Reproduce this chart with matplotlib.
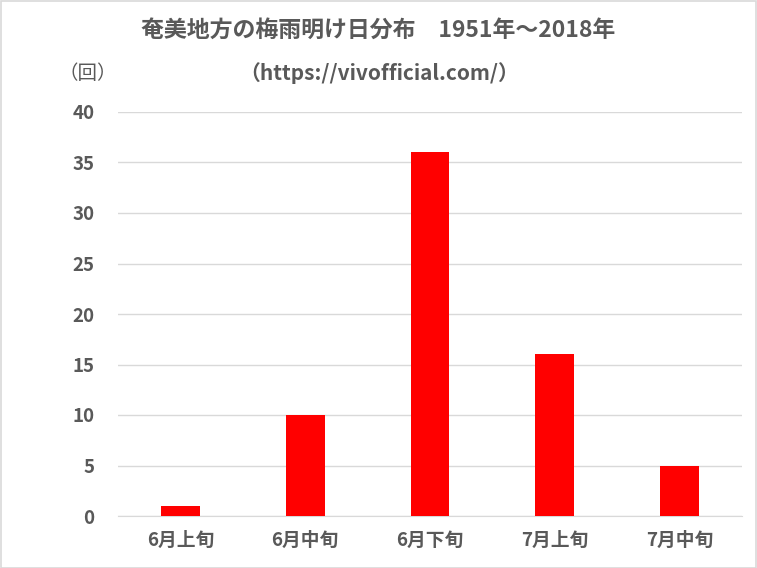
import numpy as np
import matplotlib.pyplot as plt
from matplotlib.patches import Rectangle

plt.rcParams['font.family'] = ['Noto Sans CJK JP', 'DejaVu Sans']

categories = ['6月上旬', '6月中旬', '6月下旬', '7月上旬', '7月中旬']
counts = [1, 10, 36, 16, 5]
yticks = [0, 5, 10, 15, 20, 25, 30, 35, 40]

TEXT = '#595959'
W, H = 757, 568

fig = plt.figure(figsize=(W / 100, H / 100), dpi=100)
ax = fig.add_axes([118 / W, 1 - 516 / H, 624 / W, 404 / H])

x = np.arange(len(categories))
ax.bar(x, counts, width=0.31, color='#ff0000', zorder=3)

ax.set_xlim(-0.5, len(categories) - 0.5)
ax.set_ylim(0, 40)
ax.set_yticks(yticks)
ax.set_xticks(x)
ax.set_xticklabels(categories)
ax.grid(axis='y', color='#d9d9d9', linewidth=1, zorder=0)
for s in ['top', 'right', 'left']:
    ax.spines[s].set_visible(False)
ax.spines['bottom'].set_color('#d9d9d9')
ax.tick_params(axis='both', length=0, colors=TEXT)
ax.tick_params(axis='x', pad=11, labelsize=13.5)
ax.tick_params(axis='y', pad=17, labelsize=13.5)
for lab in ax.get_xticklabels() + ax.get_yticklabels():
    lab.set_fontweight('bold')

fig.text(378 / W, 1 - 30 / H, '奄美地方の梅雨明け日分布　1951年～2018年',
         ha='center', va='center', fontsize=16.5, fontweight='bold', color=TEXT)
fig.text(379 / W, 1 - 73 / H, '（https://vivofficial.com/）',
         ha='center', va='center', fontsize=15, fontweight='bold', color=TEXT)
fig.text(88 / W, 1 - 74 / H, '（回）', ha='center', va='center',
         fontsize=14, color=TEXT)

fig.patches.append(Rectangle((0.5 / W, 0.5 / H), 1 - 1.5 / W, 1 - 1.5 / H,
                             transform=fig.transFigure, fill=False,
                             edgecolor='#d9d9d9', linewidth=1.2))

fig.savefig('out.png', dpi=100)
